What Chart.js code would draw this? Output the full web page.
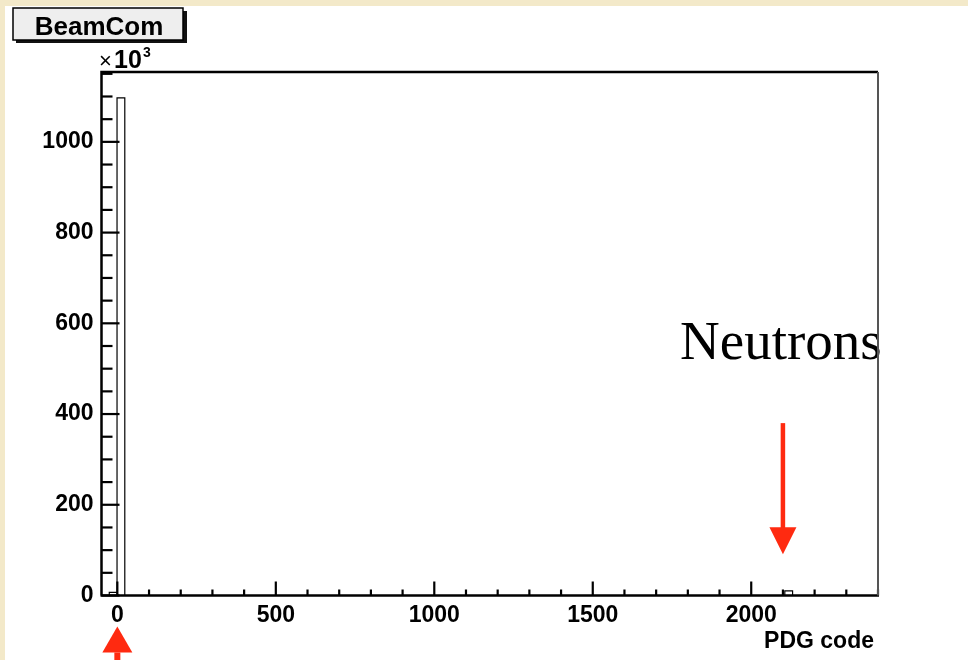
<!DOCTYPE html>
<html>
<head>
<meta charset="utf-8">
<script src="https://cdn.jsdelivr.net/npm/chart.js@4/dist/chart.umd.min.js"></script>
<style>
  html, body { margin: 0; padding: 0; background: #f3e9c9; }
  #wrap { position: absolute; left: 0; top: 0; width: 968px; height: 660px; }
</style>
</head>
<body>
<div id="wrap"><canvas id="c" width="968" height="660"></canvas></div>
<script>
// Histogram "BeamCom": entries per PDG code (counts in units of 10^3)
const binLow   = [-25.5, -1, 2106];
const binHigh  = [-1, 23.5, 2130.5];
const counts   = [7, 1097, 10];
const xRange   = [-50, 2400];
const yRange   = [0, 1154];
const xTickLabels = [0, 500, 1000, 1500, 2000];
const yTickLabels = [0, 200, 400, 600, 800, 1000];
const xMinorStep = 100;
const yMinorStep = 50;
const histTitle = 'BeamCom';
const xTitle = 'PDG code';
const noteText = 'Neutrons';
const neutronArrow = { x: 2100, yFrom: 380, yTo: 91 };   // data units
const zeroArrow = { x: 0 };

// Step outline of the filled bins, drawn along the zero line elsewhere
const outline = [{ x: xRange[0], y: 0 }];
binLow.forEach((lo, i) => {
  outline.push({ x: lo, y: 0 }, { x: lo, y: counts[i] },
               { x: binHigh[i], y: counts[i] }, { x: binHigh[i], y: 0 });
});
outline.push({ x: xRange[1], y: 0 });

const RED = '#ff2a10';
const tickFont = { family: 'Liberation Sans', weight: 'bold', size: 23 };

// tick values on every minor step inside the axis range
function stepTicks(lo, hi, step) {
  const out = [];
  for (let v = Math.ceil(lo / step) * step; v <= hi + 1e-9; v += step) out.push({ value: v });
  return out;
}

function arrow(ctx, x, yTail, yTip, headLen, headHalf, shaft) {
  const dir = yTip > yTail ? 1 : -1;
  const yBase = yTip - dir * headLen;
  ctx.save();
  ctx.fillStyle = RED;
  ctx.fillRect(x - shaft / 2, Math.min(yTail, yBase), shaft, Math.abs(yBase - yTail) + 1);
  ctx.beginPath();
  ctx.moveTo(x, yTip);
  ctx.lineTo(x - headHalf, yBase);
  ctx.lineTo(x + headHalf, yBase);
  ctx.closePath();
  ctx.fill();
  ctx.restore();
}

const rootStyle = {
  id: 'rootStyle',
  beforeDraw(chart) {
    const ctx = chart.ctx;
    ctx.save();
    ctx.fillStyle = '#f3e9c9';
    ctx.fillRect(0, 0, chart.width, chart.height);
    ctx.fillStyle = '#ffffff';
    ctx.fillRect(5, 6, chart.width - 5, chart.height - 6);

    // title box with drop shadow
    ctx.fillStyle = '#111';
    ctx.fillRect(16, 11, 171, 32);
    ctx.fillStyle = '#eeeeee';
    ctx.fillRect(13, 8, 170, 32);
    ctx.strokeStyle = '#000';
    ctx.lineWidth = 1.5;
    ctx.strokeRect(13, 8, 170, 32);
    ctx.fillStyle = '#000';
    ctx.font = 'bold 26px "Liberation Sans"';
    ctx.textAlign = 'center';
    ctx.textBaseline = 'alphabetic';
    ctx.fillText(histTitle, 99, 35);

    // annotation text
    ctx.textAlign = 'left';
    ctx.font = '55px "Liberation Serif"';
    ctx.fillText(noteText, 680, 359);
    ctx.restore();
  },
  afterDraw(chart) {
    const ctx = chart.ctx;
    const xs = chart.scales.x, ys = chart.scales.y;
    const a = chart.chartArea;
    ctx.save();
    ctx.strokeStyle = '#000';
    ctx.lineWidth = 2.2;
    ctx.lineCap = 'butt';

    // inward tick marks
    ys.ticks.forEach(t => {
      const v = t.value;
      const y = ys.getPixelForValue(v);
      const len = yTickLabels.includes(v) ? 18 : 11;
      ctx.beginPath(); ctx.moveTo(a.left, y); ctx.lineTo(a.left + len, y); ctx.stroke();
    });
    xs.ticks.forEach(t => {
      const v = t.value;
      const x = xs.getPixelForValue(v);
      const len = v % 500 === 0 ? 14 : 6;
      ctx.beginPath(); ctx.moveTo(x, a.bottom); ctx.lineTo(x, a.bottom - len); ctx.stroke();
    });

    // frame
    ctx.lineWidth = 2.5;
    ctx.beginPath();
    ctx.moveTo(a.left, a.bottom); ctx.lineTo(a.left, a.top); ctx.lineTo(a.right, a.top);
    ctx.moveTo(a.left - 1, a.bottom); ctx.lineTo(a.right + 1, a.bottom);
    ctx.stroke();
    ctx.strokeStyle = '#555';
    ctx.lineWidth = 2;
    ctx.beginPath(); ctx.moveTo(a.right, a.top); ctx.lineTo(a.right, a.bottom); ctx.stroke();

    // exponent label
    ctx.fillStyle = '#000';
    ctx.textBaseline = 'alphabetic';
    ctx.textAlign = 'left';
    ctx.font = '22px "Liberation Sans"';
    ctx.fillText('\u00d7', 99, 68);
    ctx.font = 'bold 25px "Liberation Sans"';
    ctx.fillText('10', 114, 68);
    ctx.font = 'bold 14px "Liberation Sans"';
    ctx.fillText('3', 143, 57);

    // axis title
    ctx.font = 'bold 23px "Liberation Sans"';
    ctx.textAlign = 'right';
    ctx.fillText(xTitle, 874, 648);

    // arrows
    const xn = xs.getPixelForValue(neutronArrow.x);
    arrow(ctx, xn, ys.getPixelForValue(neutronArrow.yFrom), ys.getPixelForValue(neutronArrow.yTo), 27, 13.5, 4.5);
    const x0 = xs.getPixelForValue(zeroArrow.x);
    arrow(ctx, x0, chart.height + 2, a.bottom + 31, 26, 15, 6);
    ctx.restore();
  }
};

new Chart(document.getElementById('c'), {
  type: 'line',
  data: {
    datasets: [{
      data: outline,
      borderColor: '#000',
      borderWidth: 1.2,
      pointRadius: 0,
      tension: 0,
      fill: false
    }]
  },
  options: {
    responsive: false,
    animation: false,
    devicePixelRatio: 1,
    layout: { padding: { top: 72, right: 90, left: 0, bottom: 0 } },
    plugins: { legend: { display: false }, tooltip: { enabled: false }, title: { display: false } },
    scales: {
      x: {
        type: 'linear',
        min: xRange[0], max: xRange[1],
        afterBuildTicks(s) { s.ticks = stepTicks(xRange[0], xRange[1], xMinorStep); },
        afterFit(s) { s.height = 64.5; },
        grid: { display: false, drawTicks: false },
        border: { display: false },
        ticks: {
          autoSkip: false, maxRotation: 0, padding: 6,
          color: '#000', font: tickFont,
          callback: v => xTickLabels.includes(v) ? String(v) : ''
        }
      },
      y: {
        min: yRange[0], max: yRange[1],
        afterBuildTicks(s) { s.ticks = stepTicks(yRange[0], yRange[1], yMinorStep); },
        afterFit(s) { s.width = 101.5; },
        grid: { display: false, drawTicks: false },
        border: { display: false },
        ticks: {
          autoSkip: false, padding: 8,
          color: '#000', font: tickFont,
          callback: v => yTickLabels.includes(v) ? String(v) : ''
        }
      }
    }
  },
  plugins: [rootStyle]
});
</script>
</body>
</html>
